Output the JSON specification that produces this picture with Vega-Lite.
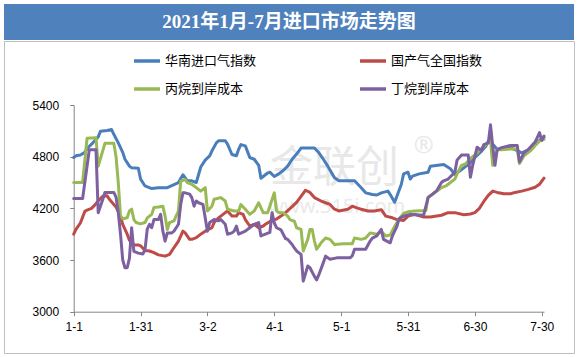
{
"$schema": "https://vega.github.io/schema/vega-lite/v6.json",
"background": "white",
"padding": {"left": 3, "top": 4, "right": 4, "bottom": 5},
"spacing": 0,
"datasets": {
"lines": [
{"s":"华南进口气指数","d":0,"v":4790},{"s":"华南进口气指数","d":1,"v":4810},{"s":"华南进口气指数","d":3,"v":4820},{"s":"华南进口气指数","d":5,"v":4850},{"s":"华南进口气指数","d":6,"v":4895},{"s":"华南进口气指数","d":8,"v":4945},{"s":"华南进口气指数","d":11,"v":5030},{"s":"华南进口气指数","d":12,"v":5095},{"s":"华南进口气指数","d":15,"v":5105},{"s":"华南进口气指数","d":17,"v":5115},{"s":"华南进口气指数","d":18,"v":5060},{"s":"华南进口气指数","d":20,"v":4960},{"s":"华南进口气指数","d":22,"v":4850},{"s":"华南进口气指数","d":23,"v":4770},{"s":"华南进口气指数","d":25,"v":4690},{"s":"华南进口气指数","d":26,"v":4670},{"s":"华南进口气指数","d":29,"v":4665},{"s":"华南进口气指数","d":30,"v":4540},{"s":"华南进口气指数","d":32,"v":4460},{"s":"华南进口气指数","d":35,"v":4430},{"s":"华南进口气指数","d":38,"v":4440},{"s":"华南进口气指数","d":42,"v":4440},{"s":"华南进口气指数","d":44,"v":4465},{"s":"华南进口气指数","d":47,"v":4500},{"s":"华南进口气指数","d":49,"v":4590},{"s":"华南进口气指数","d":51,"v":4520},{"s":"华南进口气指数","d":53,"v":4520},{"s":"华南进口气指数","d":55,"v":4500},{"s":"华南进口气指数","d":57,"v":4680},{"s":"华南进口气指数","d":59,"v":4760},{"s":"华南进口气指数","d":61,"v":4810},{"s":"华南进口气指数","d":62,"v":4865},{"s":"华南进口气指数","d":64,"v":4960},{"s":"华南进口气指数","d":65,"v":4985},{"s":"华南进口气指数","d":68,"v":4985},{"s":"华南进口气指数","d":69,"v":4945},{"s":"华南进口气指数","d":71,"v":4825},{"s":"华南进口气指数","d":73,"v":4810},{"s":"华南进口气指数","d":74,"v":4885},{"s":"华南进口气指数","d":75,"v":4940},{"s":"华南进口气指数","d":77,"v":4925},{"s":"华南进口气指数","d":79,"v":4790},{"s":"华南进口气指数","d":81,"v":4770},{"s":"华南进口气指数","d":83,"v":4700},{"s":"华南进口气指数","d":84,"v":4550},{"s":"华南进口气指数","d":87,"v":4610},{"s":"华南进口气指数","d":88,"v":4620},{"s":"华南进口气指数","d":90,"v":4570},{"s":"华南进口气指数","d":92,"v":4600},{"s":"华南进口气指数","d":94,"v":4640},{"s":"华南进口气指数","d":96,"v":4690},{"s":"华南进口气指数","d":98,"v":4770},{"s":"华南进口气指数","d":100,"v":4830},{"s":"华南进口气指数","d":102,"v":4900},{"s":"华南进口气指数","d":108,"v":4900},{"s":"华南进口气指数","d":110,"v":4845},{"s":"华南进口气指数","d":112,"v":4770},{"s":"华南进口气指数","d":114,"v":4690},{"s":"华南进口气指数","d":117,"v":4555},{"s":"华南进口气指数","d":119,"v":4520},{"s":"华南进口气指数","d":126,"v":4520},{"s":"华南进口气指数","d":129,"v":4440},{"s":"华南进口气指数","d":131,"v":4380},{"s":"华南进口气指数","d":134,"v":4360},{"s":"华南进口气指数","d":136,"v":4355},{"s":"华南进口气指数","d":138,"v":4380},{"s":"华南进口气指数","d":141,"v":4400},{"s":"华南进口气指数","d":142,"v":4360},{"s":"华南进口气指数","d":144,"v":4270},{"s":"华南进口气指数","d":145,"v":4340},{"s":"华南进口气指数","d":147,"v":4480},{"s":"华南进口气指数","d":148,"v":4600},{"s":"华南进口气指数","d":150,"v":4620},{"s":"华南进口气指数","d":151,"v":4540},{"s":"华南进口气指数","d":152,"v":4575},{"s":"华南进口气指数","d":155,"v":4600},{"s":"华南进口气指数","d":159,"v":4620},{"s":"华南进口气指数","d":160,"v":4690},{"s":"华南进口气指数","d":166,"v":4710},{"s":"华南进口气指数","d":169,"v":4660},{"s":"华南进口气指数","d":171,"v":4595},{"s":"华南进口气指数","d":173,"v":4630},{"s":"华南进口气指数","d":175,"v":4670},{"s":"华南进口气指数","d":178,"v":4730},{"s":"华南进口气指数","d":180,"v":4790},{"s":"华南进口气指数","d":183,"v":4865},{"s":"华南进口气指数","d":185,"v":4925},{"s":"华南进口气指数","d":186,"v":4980},{"s":"华南进口气指数","d":188,"v":4945},{"s":"华南进口气指数","d":190,"v":4885},{"s":"华南进口气指数","d":193,"v":4905},{"s":"华南进口气指数","d":196,"v":4905},{"s":"华南进口气指数","d":199,"v":4870},{"s":"华南进口气指数","d":201,"v":4845},{"s":"华南进口气指数","d":204,"v":4880},{"s":"华南进口气指数","d":207,"v":4940},{"s":"华南进口气指数","d":209,"v":4990},{"s":"华南进口气指数","d":211,"v":5025},
{"s":"国产气全国指数","d":0,"v":3900},{"s":"国产气全国指数","d":1,"v":3955},{"s":"国产气全国指数","d":3,"v":4030},{"s":"国产气全国指数","d":5,"v":4165},{"s":"国产气全国指数","d":6,"v":4180},{"s":"国产气全国指数","d":8,"v":4200},{"s":"国产气全国指数","d":9,"v":4225},{"s":"国产气全国指数","d":11,"v":4285},{"s":"国产气全国指数","d":13,"v":4340},{"s":"国产气全国指数","d":15,"v":4345},{"s":"国产气全国指数","d":16,"v":4305},{"s":"国产气全国指数","d":18,"v":4245},{"s":"国产气全国指数","d":19,"v":4215},{"s":"国产气全国指数","d":21,"v":4110},{"s":"国产气全国指数","d":22,"v":4015},{"s":"国产气全国指数","d":24,"v":3900},{"s":"国产气全国指数","d":25,"v":3830},{"s":"国产气全国指数","d":27,"v":3775},{"s":"国产气全国指数","d":29,"v":3775},{"s":"国产气全国指数","d":30,"v":3765},{"s":"国产气全国指数","d":32,"v":3710},{"s":"国产气全国指数","d":34,"v":3705},{"s":"国产气全国指数","d":36,"v":3685},{"s":"国产气全国指数","d":38,"v":3660},{"s":"国产气全国指数","d":41,"v":3645},{"s":"国产气全国指数","d":43,"v":3665},{"s":"国产气全国指数","d":45,"v":3745},{"s":"国产气全国指数","d":47,"v":3820},{"s":"国产气全国指数","d":49,"v":3935},{"s":"国产气全国指数","d":50,"v":3915},{"s":"国产气全国指数","d":52,"v":3840},{"s":"国产气全国指数","d":53,"v":3840},{"s":"国产气全国指数","d":55,"v":3860},{"s":"国产气全国指数","d":57,"v":3900},{"s":"国产气全国指数","d":59,"v":3935},{"s":"国产气全国指数","d":62,"v":3975},{"s":"国产气全国指数","d":63,"v":4035},{"s":"国产气全国指数","d":65,"v":4090},{"s":"国产气全国指数","d":67,"v":4130},{"s":"国产气全国指数","d":69,"v":4170},{"s":"国产气全国指数","d":71,"v":4110},{"s":"国产气全国指数","d":73,"v":4110},{"s":"国产气全国指数","d":74,"v":4150},{"s":"国产气全国指数","d":76,"v":4130},{"s":"国产气全国指数","d":77,"v":4070},{"s":"国产气全国指数","d":79,"v":3995},{"s":"国产气全国指数","d":81,"v":4015},{"s":"国产气全国指数","d":83,"v":3975},{"s":"国产气全国指数","d":85,"v":3995},{"s":"国产气全国指数","d":86,"v":4015},{"s":"国产气全国指数","d":89,"v":4060},{"s":"国产气全国指数","d":91,"v":4075},{"s":"国产气全国指数","d":93,"v":4110},{"s":"国产气全国指数","d":95,"v":4150},{"s":"国产气全国指数","d":98,"v":4220},{"s":"国产气全国指数","d":100,"v":4270},{"s":"国产气全国指数","d":102,"v":4340},{"s":"国产气全国指数","d":104,"v":4410},{"s":"国产气全国指数","d":106,"v":4385},{"s":"国产气全国指数","d":108,"v":4325},{"s":"国产气全国指数","d":111,"v":4285},{"s":"国产气全国指数","d":113,"v":4265},{"s":"国产气全国指数","d":115,"v":4245},{"s":"国产气全国指数","d":117,"v":4190},{"s":"国产气全国指数","d":119,"v":4170},{"s":"国产气全国指数","d":123,"v":4190},{"s":"国产气全国指数","d":125,"v":4225},{"s":"国产气全国指数","d":127,"v":4205},{"s":"国产气全国指数","d":129,"v":4190},{"s":"国产气全国指数","d":132,"v":4170},{"s":"国产气全国指数","d":135,"v":4170},{"s":"国产气全国指数","d":138,"v":4185},{"s":"国产气全国指数","d":140,"v":4110},{"s":"国产气全国指数","d":143,"v":4090},{"s":"国产气全国指数","d":145,"v":4070},{"s":"国产气全国指数","d":148,"v":4060},{"s":"国产气全国指数","d":150,"v":4110},{"s":"国产气全国指数","d":153,"v":4130},{"s":"国产气全国指数","d":157,"v":4100},{"s":"国产气全国指数","d":160,"v":4100},{"s":"国产气全国指数","d":165,"v":4120},{"s":"国产气全国指数","d":168,"v":4150},{"s":"国产气全国指数","d":171,"v":4150},{"s":"国产气全国指数","d":175,"v":4125},{"s":"国产气全国指数","d":178,"v":4135},{"s":"国产气全国指数","d":180,"v":4150},{"s":"国产气全国指数","d":182,"v":4200},{"s":"国产气全国指数","d":184,"v":4280},{"s":"国产气全国指数","d":186,"v":4350},{"s":"国产气全国指数","d":188,"v":4400},{"s":"国产气全国指数","d":190,"v":4385},{"s":"国产气全国指数","d":193,"v":4370},{"s":"国产气全国指数","d":196,"v":4370},{"s":"国产气全国指数","d":198,"v":4385},{"s":"国产气全国指数","d":201,"v":4400},{"s":"国产气全国指数","d":204,"v":4420},{"s":"国产气全国指数","d":207,"v":4445},{"s":"国产气全国指数","d":209,"v":4480},{"s":"国产气全国指数","d":211,"v":4550},
{"s":"丙烷到岸成本","d":0,"v":4500},{"s":"丙烷到岸成本","d":4,"v":4500},{"s":"丙烷到岸成本","d":6,"v":5015},{"s":"丙烷到岸成本","d":10,"v":5020},{"s":"丙烷到岸成本","d":11,"v":4690},{"s":"丙烷到岸成本","d":13,"v":4865},{"s":"丙烷到岸成本","d":14,"v":4955},{"s":"丙烷到岸成本","d":18,"v":4955},{"s":"丙烷到岸成本","d":19,"v":4800},{"s":"丙烷到岸成本","d":20,"v":4500},{"s":"丙烷到岸成本","d":21,"v":4110},{"s":"丙烷到岸成本","d":22,"v":4080},{"s":"丙烷到岸成本","d":24,"v":4090},{"s":"丙烷到岸成本","d":25,"v":4170},{"s":"丙烷到岸成本","d":26,"v":4190},{"s":"丙烷到岸成本","d":27,"v":4070},{"s":"丙烷到岸成本","d":28,"v":4035},{"s":"丙烷到岸成本","d":30,"v":4020},{"s":"丙烷到岸成本","d":32,"v":4035},{"s":"丙烷到岸成本","d":33,"v":4090},{"s":"丙烷到岸成本","d":35,"v":4130},{"s":"丙烷到岸成本","d":36,"v":4210},{"s":"丙烷到岸成本","d":38,"v":4215},{"s":"丙烷到岸成本","d":40,"v":4225},{"s":"丙烷到岸成本","d":41,"v":4110},{"s":"丙烷到岸成本","d":42,"v":3955},{"s":"丙烷到岸成本","d":43,"v":4035},{"s":"丙烷到岸成本","d":45,"v":4055},{"s":"丙烷到岸成本","d":47,"v":4170},{"s":"丙烷到岸成本","d":48,"v":4515},{"s":"丙烷到岸成本","d":50,"v":4535},{"s":"丙烷到岸成本","d":51,"v":4500},{"s":"丙烷到岸成本","d":53,"v":4480},{"s":"丙烷到岸成本","d":55,"v":4440},{"s":"丙烷到岸成本","d":57,"v":4400},{"s":"丙烷到岸成本","d":59,"v":4440},{"s":"丙烷到岸成本","d":60,"v":4170},{"s":"丙烷到岸成本","d":62,"v":4225},{"s":"丙烷到岸成本","d":63,"v":4305},{"s":"丙烷到岸成本","d":66,"v":4325},{"s":"丙烷到岸成本","d":68,"v":4285},{"s":"丙烷到岸成本","d":69,"v":4190},{"s":"丙烷到岸成本","d":72,"v":4170},{"s":"丙烷到岸成本","d":74,"v":4170},{"s":"丙烷到岸成本","d":75,"v":4245},{"s":"丙烷到岸成本","d":77,"v":4190},{"s":"丙烷到岸成本","d":79,"v":4130},{"s":"丙烷到岸成本","d":81,"v":4170},{"s":"丙烷到岸成本","d":83,"v":4265},{"s":"丙烷到岸成本","d":85,"v":4150},{"s":"丙烷到岸成本","d":87,"v":4150},{"s":"丙烷到岸成本","d":88,"v":4225},{"s":"丙烷到岸成本","d":90,"v":4380},{"s":"丙烷到岸成本","d":91,"v":4170},{"s":"丙烷到岸成本","d":92,"v":4150},{"s":"丙烷到岸成本","d":94,"v":4150},{"s":"丙烷到岸成本","d":96,"v":4110},{"s":"丙烷到岸成本","d":97,"v":4070},{"s":"丙烷到岸成本","d":99,"v":4050},{"s":"丙烷到岸成本","d":100,"v":3975},{"s":"丙烷到岸成本","d":102,"v":3955},{"s":"丙烷到岸成本","d":103,"v":3705},{"s":"丙烷到岸成本","d":105,"v":3840},{"s":"丙烷到岸成本","d":106,"v":3955},{"s":"丙烷到岸成本","d":107,"v":3955},{"s":"丙烷到岸成本","d":108,"v":3820},{"s":"丙烷到岸成本","d":109,"v":3725},{"s":"丙烷到岸成本","d":111,"v":3800},{"s":"丙烷到岸成本","d":113,"v":3855},{"s":"丙烷到岸成本","d":115,"v":3840},{"s":"丙烷到岸成本","d":117,"v":3780},{"s":"丙烷到岸成本","d":121,"v":3790},{"s":"丙烷到岸成本","d":125,"v":3790},{"s":"丙烷到岸成本","d":126,"v":3855},{"s":"丙烷到岸成本","d":129,"v":3840},{"s":"丙烷到岸成本","d":131,"v":3855},{"s":"丙烷到岸成本","d":133,"v":3915},{"s":"丙烷到岸成本","d":136,"v":3900},{"s":"丙烷到岸成本","d":138,"v":3935},{"s":"丙烷到岸成本","d":140,"v":3880},{"s":"丙烷到岸成本","d":142,"v":3890},{"s":"丙烷到岸成本","d":144,"v":3990},{"s":"丙烷到岸成本","d":146,"v":4080},{"s":"丙烷到岸成本","d":148,"v":4140},{"s":"丙烷到岸成本","d":150,"v":4160},{"s":"丙烷到岸成本","d":153,"v":4170},{"s":"丙烷到岸成本","d":158,"v":4175},{"s":"丙烷到岸成本","d":159,"v":4330},{"s":"丙烷到岸成本","d":161,"v":4365},{"s":"丙烷到岸成本","d":163,"v":4400},{"s":"丙烷到岸成本","d":165,"v":4440},{"s":"丙烷到岸成本","d":167,"v":4460},{"s":"丙烷到岸成本","d":169,"v":4500},{"s":"丙烷到岸成本","d":171,"v":4540},{"s":"丙烷到岸成本","d":172,"v":4600},{"s":"丙烷到岸成本","d":174,"v":4700},{"s":"丙烷到岸成本","d":176,"v":4720},{"s":"丙烷到岸成本","d":178,"v":4780},{"s":"丙烷到岸成本","d":180,"v":4820},{"s":"丙烷到岸成本","d":182,"v":4870},{"s":"丙烷到岸成本","d":184,"v":4920},{"s":"丙烷到岸成本","d":186,"v":4960},{"s":"丙烷到岸成本","d":187,"v":4990},{"s":"丙烷到岸成本","d":188,"v":4700},{"s":"丙烷到岸成本","d":190,"v":4880},{"s":"丙烷到岸成本","d":192,"v":4880},{"s":"丙烷到岸成本","d":196,"v":4890},{"s":"丙烷到岸成本","d":199,"v":4890},{"s":"丙烷到岸成本","d":200,"v":4720},{"s":"丙烷到岸成本","d":202,"v":4810},{"s":"丙烷到岸成本","d":205,"v":4870},{"s":"丙烷到岸成本","d":207,"v":4930},{"s":"丙烷到岸成本","d":209,"v":4980},{"s":"丙烷到岸成本","d":211,"v":5000},
{"s":"丁烷到岸成本","d":0,"v":4315},{"s":"丁烷到岸成本","d":4,"v":4315},{"s":"丁烷到岸成本","d":7,"v":4880},{"s":"丁烷到岸成本","d":10,"v":4880},{"s":"丁烷到岸成本","d":11,"v":4150},{"s":"丁烷到岸成本","d":13,"v":4300},{"s":"丁烷到岸成本","d":14,"v":4385},{"s":"丁烷到岸成本","d":18,"v":4385},{"s":"丁烷到岸成本","d":19,"v":4330},{"s":"丁烷到岸成本","d":20,"v":4150},{"s":"丁烷到岸成本","d":21,"v":3900},{"s":"丁烷到岸成本","d":22,"v":3600},{"s":"丁烷到岸成本","d":23,"v":3510},{"s":"丁烷到岸成本","d":24,"v":3510},{"s":"丁烷到岸成本","d":25,"v":3620},{"s":"丁烷到岸成本","d":26,"v":3975},{"s":"丁烷到岸成本","d":27,"v":3700},{"s":"丁烷到岸成本","d":29,"v":3680},{"s":"丁烷到岸成本","d":31,"v":3670},{"s":"丁烷到岸成本","d":32,"v":3720},{"s":"丁烷到岸成本","d":33,"v":3960},{"s":"丁烷到岸成本","d":34,"v":4015},{"s":"丁烷到岸成本","d":35,"v":3975},{"s":"丁烷到岸成本","d":36,"v":4070},{"s":"丁烷到岸成本","d":38,"v":4070},{"s":"丁烷到岸成本","d":39,"v":4130},{"s":"丁烷到岸成本","d":40,"v":3935},{"s":"丁烷到岸成本","d":41,"v":3820},{"s":"丁烷到岸成本","d":42,"v":3915},{"s":"丁烷到岸成本","d":44,"v":3915},{"s":"丁烷到岸成本","d":45,"v":3935},{"s":"丁烷到岸成本","d":47,"v":4015},{"s":"丁烷到岸成本","d":48,"v":4245},{"s":"丁烷到岸成本","d":49,"v":4380},{"s":"丁烷到岸成本","d":50,"v":4380},{"s":"丁烷到岸成本","d":52,"v":4365},{"s":"丁烷到岸成本","d":53,"v":4325},{"s":"丁烷到岸成本","d":54,"v":4225},{"s":"丁烷到岸成本","d":55,"v":4285},{"s":"丁烷到岸成本","d":56,"v":4265},{"s":"丁烷到岸成本","d":58,"v":4245},{"s":"丁烷到岸成本","d":59,"v":4090},{"s":"丁烷到岸成本","d":60,"v":3935},{"s":"丁烷到岸成本","d":61,"v":4035},{"s":"丁烷到岸成本","d":63,"v":4070},{"s":"丁烷到岸成本","d":65,"v":4055},{"s":"丁烷到岸成本","d":66,"v":4070},{"s":"丁烷到岸成本","d":68,"v":4015},{"s":"丁烷到岸成本","d":69,"v":3900},{"s":"丁烷到岸成本","d":71,"v":3915},{"s":"丁烷到岸成本","d":72,"v":3935},{"s":"丁烷到岸成本","d":73,"v":3995},{"s":"丁烷到岸成本","d":74,"v":3900},{"s":"丁烷到岸成本","d":77,"v":3935},{"s":"丁烷到岸成本","d":79,"v":3975},{"s":"丁烷到岸成本","d":81,"v":4015},{"s":"丁烷到岸成本","d":83,"v":4035},{"s":"丁烷到岸成本","d":84,"v":3880},{"s":"丁烷到岸成本","d":86,"v":3900},{"s":"丁烷到岸成本","d":88,"v":3920},{"s":"丁烷到岸成本","d":89,"v":4150},{"s":"丁烷到岸成本","d":90,"v":4030},{"s":"丁烷到岸成本","d":91,"v":3975},{"s":"丁烷到岸成本","d":93,"v":3950},{"s":"丁烷到岸成本","d":95,"v":3850},{"s":"丁烷到岸成本","d":96,"v":3840},{"s":"丁烷到岸成本","d":98,"v":3780},{"s":"丁烷到岸成本","d":99,"v":3740},{"s":"丁烷到岸成本","d":100,"v":3705},{"s":"丁烷到岸成本","d":102,"v":3665},{"s":"丁烷到岸成本","d":103,"v":3355},{"s":"丁烷到岸成本","d":105,"v":3530},{"s":"丁烷到岸成本","d":106,"v":3510},{"s":"丁烷到岸成本","d":108,"v":3410},{"s":"丁烷到岸成本","d":109,"v":3370},{"s":"丁烷到岸成本","d":110,"v":3430},{"s":"丁烷到岸成本","d":112,"v":3570},{"s":"丁烷到岸成本","d":113,"v":3645},{"s":"丁烷到岸成本","d":115,"v":3610},{"s":"丁烷到岸成本","d":118,"v":3625},{"s":"丁烷到岸成本","d":124,"v":3625},{"s":"丁烷到岸成本","d":125,"v":3650},{"s":"丁烷到岸成本","d":126,"v":3725},{"s":"丁烷到岸成本","d":131,"v":3725},{"s":"丁烷到岸成本","d":133,"v":3820},{"s":"丁烷到岸成本","d":134,"v":3855},{"s":"丁烷到岸成本","d":136,"v":3880},{"s":"丁烷到岸成本","d":138,"v":3955},{"s":"丁烷到岸成本","d":139,"v":3840},{"s":"丁烷到岸成本","d":142,"v":3800},{"s":"丁烷到岸成本","d":143,"v":3880},{"s":"丁烷到岸成本","d":145,"v":3990},{"s":"丁烷到岸成本","d":146,"v":4080},{"s":"丁烷到岸成本","d":148,"v":4110},{"s":"丁烷到岸成本","d":151,"v":4130},{"s":"丁烷到岸成本","d":157,"v":4120},{"s":"丁烷到岸成本","d":159,"v":4325},{"s":"丁烷到岸成本","d":161,"v":4365},{"s":"丁烷到岸成本","d":163,"v":4410},{"s":"丁烷到岸成本","d":165,"v":4500},{"s":"丁烷到岸成本","d":166,"v":4520},{"s":"丁烷到岸成本","d":168,"v":4540},{"s":"丁烷到岸成本","d":171,"v":4620},{"s":"丁烷到岸成本","d":172,"v":4760},{"s":"丁烷到岸成本","d":174,"v":4820},{"s":"丁烷到岸成本","d":177,"v":4820},{"s":"丁烷到岸成本","d":178,"v":4560},{"s":"丁烷到岸成本","d":179,"v":4700},{"s":"丁烷到岸成本","d":181,"v":4910},{"s":"丁烷到岸成本","d":183,"v":4870},{"s":"丁烷到岸成本","d":184,"v":4940},{"s":"丁烷到岸成本","d":186,"v":4960},{"s":"丁烷到岸成本","d":187,"v":5170},{"s":"丁烷到岸成本","d":188,"v":4920},{"s":"丁烷到岸成本","d":189,"v":4700},{"s":"丁烷到岸成本","d":190,"v":4880},{"s":"丁烷到岸成本","d":192,"v":4905},{"s":"丁烷到岸成本","d":196,"v":4930},{"s":"丁烷到岸成本","d":199,"v":4930},{"s":"丁烷到岸成本","d":200,"v":4740},{"s":"丁烷到岸成本","d":202,"v":4845},{"s":"丁烷到岸成本","d":204,"v":4885},{"s":"丁烷到岸成本","d":207,"v":4970},{"s":"丁烷到岸成本","d":209,"v":5080},{"s":"丁烷到岸成本","d":210,"v":4990},{"s":"丁烷到岸成本","d":211,"v":5040}
]
},
"vconcat": [
{
"width": 570,
"height": 36,
"view": {"fill": "#4F81BD", "stroke": null},
"data": {"values": [{"t": "2021年1月-7月进口市场走势图"}]},
"mark": {"type": "text", "color": "#FFFFFF", "font": "Liberation Serif, Noto Sans CJK SC", "fontSize": 19, "fontWeight": "bold"},
"encoding": {"text": {"field": "t"}}
},
{
"width": 570,
"height": 312,
"view": {"stroke": "#BFBFBF", "strokeWidth": 1, "fill": "#FFFFFF"},
"encoding": {
"x": {"field": "d", "type": "quantitative",
"scale": {"domain": [0, 211], "range": [69.7, 540], "nice": false, "zero": false},
"axis": {"orient": "bottom", "offset": -41.3, "values": [0, 30, 60, 90, 120, 150, 180, 210],
"labelExpr": "['1-1','1-31','3-2','4-1','5-1','5-31','6-30','7-30'][round(datum.value/30)]",
"title": null, "grid": false, "domainColor": "#868686", "tickColor": "#868686", "tickSize": 4,
"labelPadding": 6, "labelFont": "Liberation Sans", "labelFontSize": 12, "labelColor": "#000000",
"labelFlush": false, "labelOverlap": false}},
"y": {"field": "v", "type": "quantitative",
"scale": {"domain": [3000, 5400], "range": [270.7, 64], "nice": false, "zero": false},
"axis": {"orient": "left", "offset": -69.7, "values": [3000, 3600, 4200, 4800, 5400], "format": "d",
"title": null, "grid": false, "domainColor": "#868686", "tickColor": "#868686", "tickSize": 4,
"labelPadding": 11, "labelFont": "Liberation Sans", "labelFontSize": 12, "labelColor": "#000000"}}
},
"layer": [
{"data": {"values": [{"t": "金联创", "d": 117, "v": 4655}]},
"mark": {"type": "text", "font": "Noto Sans CJK SC", "fontSize": 43, "color": "#E8E8E8"},
"encoding": {"text": {"field": "t"}}},
{"data": {"values": [{"t": "www.315i.com", "d": 118, "v": 4220}]},
"mark": {"type": "text", "font": "Noto Sans", "fontSize": 20, "color": "#EAEAEA"},
"encoding": {"text": {"field": "t"}}},
{"data": {"values": [{"t": "®", "d": 157, "v": 4920}]},
"mark": {"type": "text", "font": "Noto Sans", "fontSize": 24, "color": "#E8E8E8"},
"encoding": {"text": {"field": "t"}}},
{"data": {"name": "lines"},
"mark": {"type": "line", "strokeWidth": 3, "strokeJoin": "round", "strokeCap": "round"},
"encoding": {
"color": {"field": "s", "type": "nominal",
"scale": {"domain": ["华南进口气指数", "国产气全国指数", "丙烷到岸成本", "丁烷到岸成本"], "range": ["#4A7EBB", "#BE4B48", "#98B954", "#7D60A0"]},
"legend": {"title": null, "orient": "none", "legendX": 128, "legendY": 42, "direction": "horizontal", "columns": 2, "columnPadding": 96, "rowPadding": 6,
"symbolType": "stroke", "symbolSize": 676, "symbolStrokeWidth": 3.5, "labelFont": "Noto Sans CJK SC", "labelFontSize": 13,
"labelColor": "#000000", "labelOffset": 3, "padding": 0}}
}}
]
}
]
}
